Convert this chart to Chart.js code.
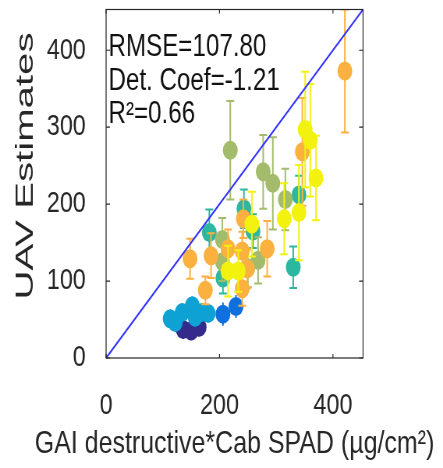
<!DOCTYPE html>
<html>
<head>
<meta charset="utf-8">
<script src="https://cdn.jsdelivr.net/npm/chart.js@4/dist/chart.umd.min.js"></script>
<style>
  html, body { margin: 0; padding: 0; background: #fff; overflow: hidden; }
  #wrap { width: 568px; height: 468px; transform: scaleX(0.78); transform-origin: 0 0; }
</style>
</head>
<body>
<div id="wrap"><canvas id="chart" width="568" height="468"></canvas></div>
<script>
// tick labels and axis range
const xTicks = [0, 200, 400];
const yTicks = [0, 100, 200, 300, 400];
const axisMax = 453;

// one group per colour, x = destructive, y = UAV estimate, err = half error bar
const yellowX = [351, 360, 370, 314, 340, 257, 215, 233];
const yellowY = [297, 283, 234, 181, 189, 174, 113, 113];
const yellowErr = [75, 73, 55, 46, 62, 42, 33, 27];

const orangeX = [421, 346, 148, 185, 242, 284, 215, 240, 249, 175, 240];
const orangeY = [373, 268, 129, 133, 181, 142, 142, 139, 116, 88, 90];
const orangeErr = [80, 70, 26, 29, 25, 36, 25, 25, 25, 18, 22];

const oliveX = [219, 277, 294, 316, 205, 205, 268, 250];
const oliveY = [270, 242, 227, 206, 154, 125, 127, 117];
const oliveErr = [64, 48, 60, 40, 28, 25, 30, 25];

const tealX = [330, 340, 243, 182, 206, 259];
const tealY = [118, 212, 194, 163, 104, 165];
const tealErr = [27, 25, 25, 30, 20, 22];

const cyanX = [113, 134, 152, 169, 180, 122, 157];
const cyanY = [51, 59, 68, 59, 58, 46, 53];
const cyanErr = [12, 12, 12, 12, 12, 12, 12];

const blueX = [206, 229];
const blueY = [57, 67];
const blueErr = [15, 15];

const navyX = [136, 150, 164];
const navyY = [37, 35, 40];
const navyErr = [12, 12, 12];

const fontFamily = "'Liberation Sans', Arial, sans-serif";
const textColor = '#262626';

function makeSet(label, color, xs, ys, errs, caps) {
    return {
        label: label,
        data: xs.map((x, i) => ({ x: x, y: ys[i] })),
        err: errs,
        caps: caps,
        backgroundColor: color,
        borderColor: color,
        borderWidth: 0,
        pointRadius: 9.5,
        pointHoverRadius: 9.5
    };
}

const errorBars = {
    id: 'errorBars',
    beforeDatasetDraw(chart, args) {
        const ds = chart.data.datasets[args.index];
        if (!ds.err) return;
        const ctx = chart.ctx;
        const area = chart.chartArea;
        const xs = chart.scales.x;
        const ys = chart.scales.y;
        ctx.save();
        ctx.beginPath();
        ctx.rect(area.left, area.top, area.right - area.left, area.bottom - area.top);
        ctx.clip();
        ctx.strokeStyle = ds.borderColor;
        ctx.lineWidth = 2;
        ds.data.forEach((p, i) => {
            const px = xs.getPixelForValue(p.x);
            const top = ys.getPixelForValue(p.y + ds.err[i]);
            const bot = ys.getPixelForValue(p.y - ds.err[i]);
            ctx.beginPath();
            ctx.moveTo(px, top);
            ctx.lineTo(px, bot);
            if (ds.caps) {
                ctx.moveTo(px - 5, top);
                ctx.lineTo(px + 5, top);
                ctx.moveTo(px - 5, bot);
                ctx.lineTo(px + 5, bot);
            }
            ctx.stroke();
        });
        ctx.restore();
    }
};

const boxAndText = {
    id: 'boxAndText',
    afterDraw(chart) {
        const ctx = chart.ctx;
        const a = chart.chartArea;
        const xs = chart.scales.x;
        const ys = chart.scales.y;
        ctx.save();
        ctx.strokeStyle = textColor;
        ctx.lineWidth = 1.2;
        ctx.strokeRect(a.left, a.top, a.right - a.left, a.bottom - a.top);
        // inward ticks on all four sides
        ctx.beginPath();
        xTicks.forEach(v => {
            const px = xs.getPixelForValue(v);
            ctx.moveTo(px, a.bottom); ctx.lineTo(px, a.bottom - 4);
            ctx.moveTo(px, a.top); ctx.lineTo(px, a.top + 4);
        });
        yTicks.forEach(v => {
            const py = ys.getPixelForValue(v);
            ctx.moveTo(a.left, py); ctx.lineTo(a.left + 5, py);
            ctx.moveTo(a.right, py); ctx.lineTo(a.right - 5, py);
        });
        ctx.stroke();

        ctx.fillStyle = '#111';
        ctx.font = '31px ' + fontFamily;
        ctx.textAlign = 'left';
        ctx.textBaseline = 'alphabetic';
        ctx.fillText('RMSE=107.80', a.left + 3, 56);
        ctx.fillText('Det. Coef=-1.21', a.left + 3, 90);
        ctx.fillText('R²=0.66', a.left + 3, 123);

        // x axis title, wider than the plot box
        ctx.fillStyle = textColor;
        ctx.font = '32px ' + fontFamily;
        ctx.textAlign = 'center';
        ctx.textBaseline = 'middle';
        ctx.fillText('GAI destructive*Cab SPAD (µg/cm²)', (a.left + a.right) / 2, 444);

        // y axis title, stretched along its length like the original
        ctx.font = '32px ' + fontFamily;
        const title = 'UAV Estimates';
        const w = ctx.measureText(title).width;
        ctx.translate(33, 166);
        ctx.rotate(-Math.PI / 2);
        ctx.scale(267 / w, 1);
        ctx.fillText(title, 0, 0);
        ctx.restore();
    }
};

function noPadding(scale) {
    scale.paddingTop = 0;
    scale.paddingBottom = 0;
    scale.paddingLeft = 0;
    scale.paddingRight = 0;
}

new Chart(document.getElementById('chart'), {
    type: 'scatter',
    data: {
        datasets: [
            {
                type: 'line',
                label: '1:1',
                data: [{ x: 0, y: 0 }, { x: axisMax, y: axisMax }],
                borderColor: '#3333ff',
                borderWidth: 2,
                pointRadius: 0,
                fill: false
            },
            makeSet('yellow', '#f2f20e', yellowX, yellowY, yellowErr, true),
            makeSet('orange', '#fbb13f', orangeX, orangeY, orangeErr, true),
            makeSet('olive', '#a3bc6b', oliveX, oliveY, oliveErr, true),
            makeSet('teal', '#2cb7a1', tealX, tealY, tealErr, true),
            makeSet('cyan', '#0ea1d3', cyanX, cyanY, cyanErr, false),
            makeSet('blue', '#0f6fdc', blueX, blueY, blueErr, false),
            makeSet('navy', '#35298a', navyX, navyY, navyErr, false)
        ]
    },
    options: {
        responsive: false,
        animation: false,
        events: [],
        layout: { padding: { left: 0, right: 102.6, top: 6, bottom: 0 } },
        plugins: {
            legend: { display: false },
            tooltip: { enabled: false }
        },
        scales: {
            x: {
                type: 'linear',
                min: 0,
                max: axisMax,
                grid: { display: false },
                border: { display: false },
                afterBuildTicks: s => { s.ticks = xTicks.map(v => ({ value: v })); },
                afterFit: s => { s.height = 110; noPadding(s); },
                ticks: {
                    color: textColor,
                    padding: 22,
                    maxRotation: 0,
                    font: { family: fontFamily, size: 30 }
                }
            },
            y: {
                type: 'linear',
                min: 0,
                max: axisMax,
                grid: { display: false },
                border: { display: false },
                afterBuildTicks: s => { s.ticks = yTicks.map(v => ({ value: v })); },
                afterFit: s => { s.width = 136; noPadding(s); },
                ticks: {
                    color: textColor,
                    padding: 18,
                    font: { family: fontFamily, size: 30 }
                }
            }
        }
    },
    plugins: [errorBars, boxAndText]
});
</script>
</body>
</html>
